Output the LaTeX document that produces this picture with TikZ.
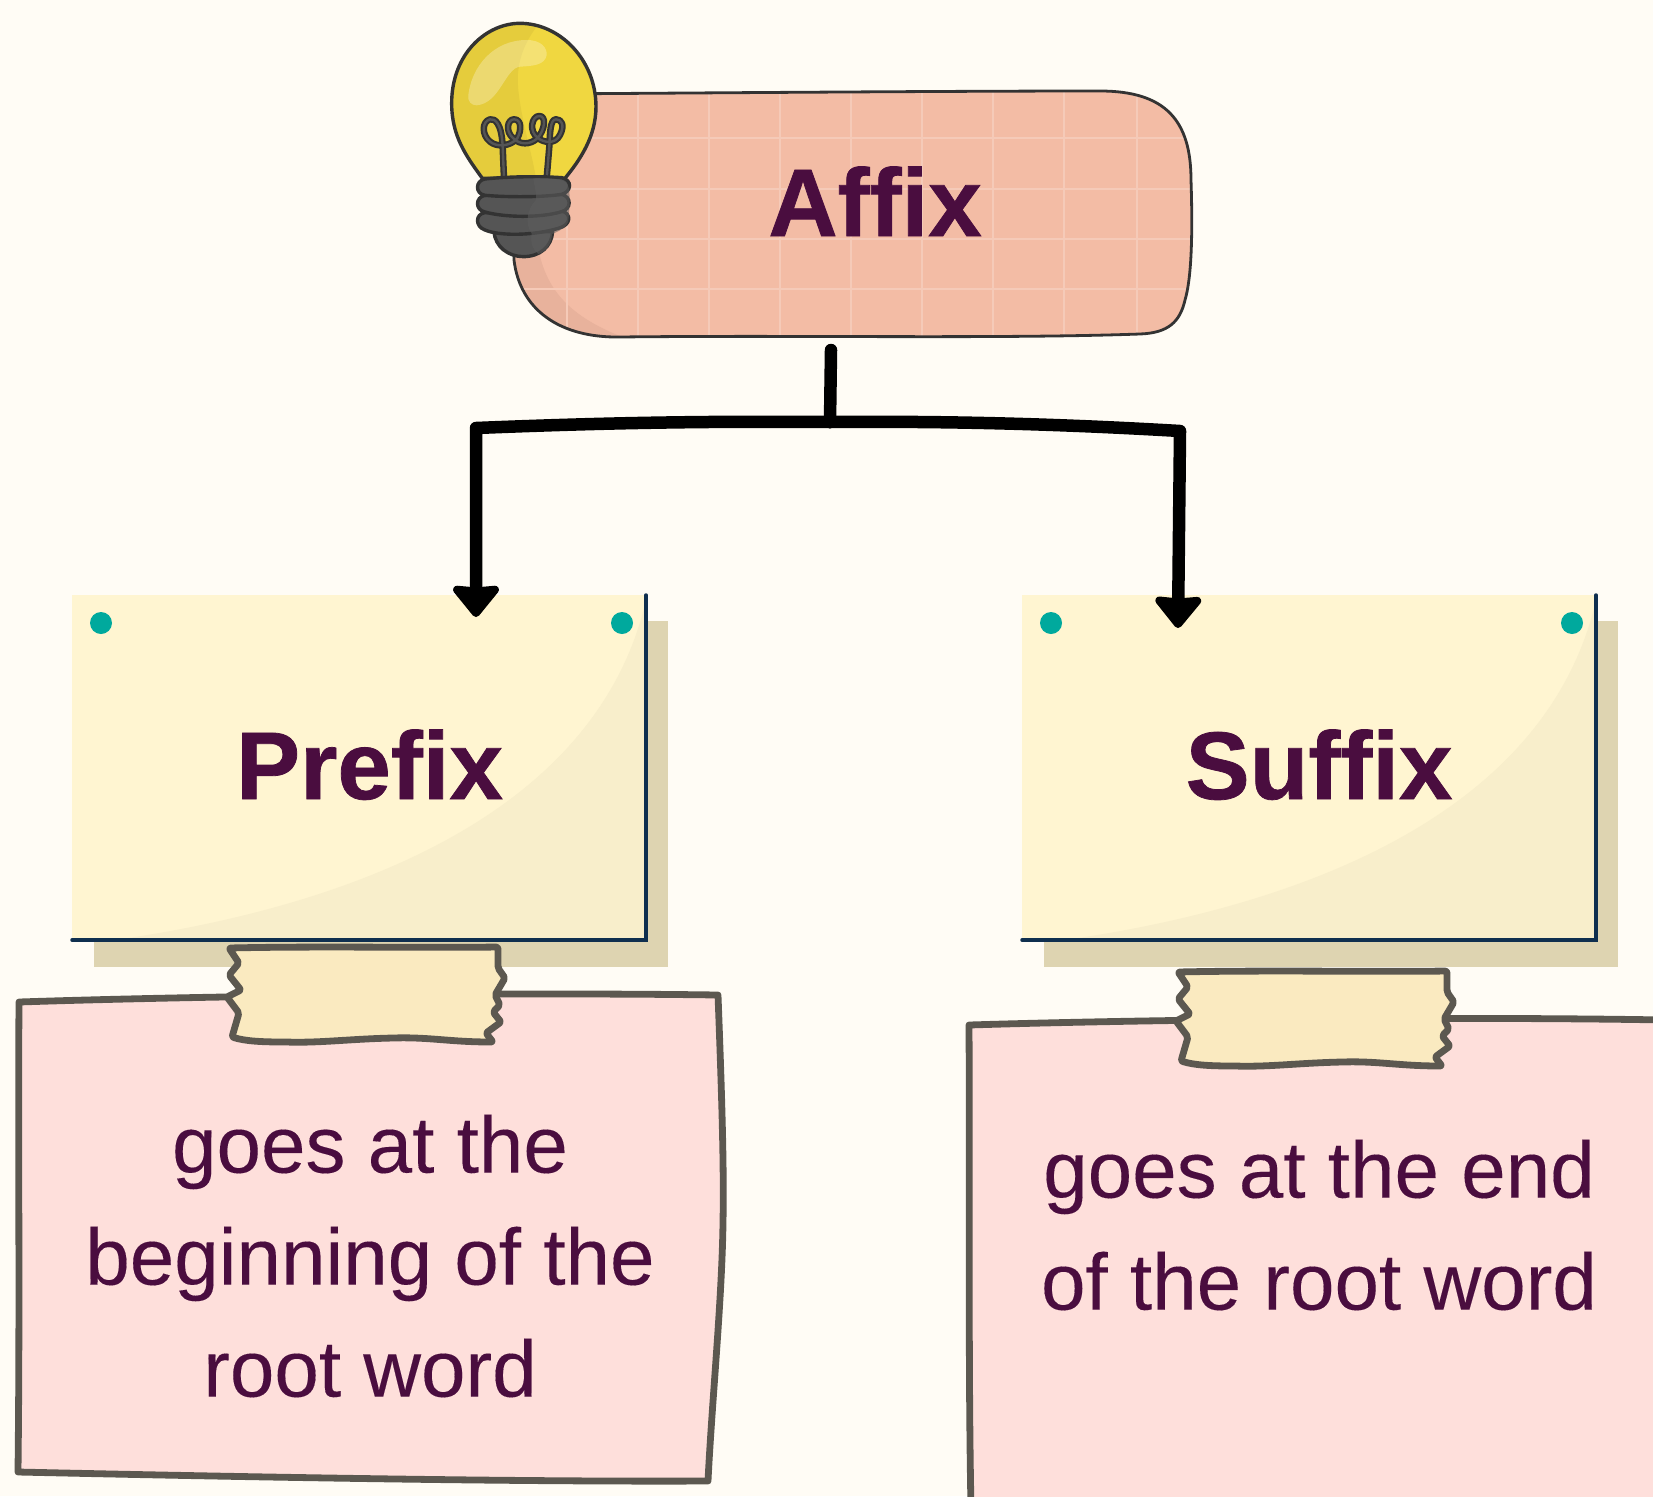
\documentclass[tikz,border=0pt]{standalone}
\usepackage{fontspec}
\setmainfont{Liberation Sans}[BoldFeatures={FakeBold=0.8},UprightFeatures={FakeBold=0.15}]
\usetikzlibrary{arrows.meta,calc}
\definecolor{bgc}{HTML}{FFFCF5}
\definecolor{cardc}{HTML}{FFF5D1}
\definecolor{foldc}{HTML}{F8EECB}
\definecolor{shadowc}{HTML}{DED4B1}
\definecolor{navyc}{HTML}{0F2F4F}
\definecolor{inkc}{HTML}{4A0D3F}
\definecolor{affixc}{HTML}{F3BCA5}
\definecolor{gridc}{HTML}{F5CAB8}
\definecolor{affixshade}{HTML}{E8B29C}
\definecolor{notec}{HTML}{FEDFDB}
\definecolor{tapec}{HTML}{FAEAC0}
\definecolor{tapeline}{HTML}{5C5850}
\definecolor{dotc}{HTML}{00A99D}
\definecolor{bulbc}{HTML}{F0D740}
\definecolor{bulbdark}{HTML}{E5CC3C}
\definecolor{basec}{HTML}{555555}
\definecolor{baselight}{HTML}{5E5E5E}
\definecolor{linec}{HTML}{333333}
\tikzset{
  titletext/.style={font=\fontsize{96}{100}\selectfont\bfseries,text=inkc,inner sep=0pt,anchor=base},
  bodytext/.style={font=\fontsize{80}{112}\selectfont,text=inkc,inner sep=0pt,align=center},
  cardbox/.style={rectangle,fill=cardc,minimum width=574pt,minimum height=345pt,inner sep=0pt,outer sep=0pt},
  boxholder/.style={rectangle,minimum width=679pt,minimum height=245pt,inner sep=0pt,outer sep=0pt},
  pinstyle/.style={circle,fill=dotc,minimum size=22pt,inner sep=0pt},
  notepaper/.style={fill=notec,draw=tapeline,line width=6.8pt,line join=round},
  tapestyle/.style={fill=tapec,draw=tapeline,line width=6.8pt,line join=round,rounded corners=2pt},
  flow/.style={black,line width=12.5pt,line cap=round,line join=round},
  arrowflow/.style={flow,-{Stealth[inset=2pt,length=34pt,width=54pt,round]}},
  outlinebulb/.style={draw=linec,line width=3.4pt,line join=round},
}
\newcommand{\tapeoutline}{(229,948) .. controls (320,946) and (420,948) .. (498,947) -- (498,968) -- (505,978) -- (495,995) -- (500,1005) -- (493,1012) -- (501,1022) -- (486,1033) -- (493,1042) .. controls (450,1042) and (430,1037) .. (393,1038) .. controls (350,1039) and (320,1043) .. (286,1042) .. controls (260,1042) and (245,1041) .. (232,1037) -- (239,1013) -- (227,997) -- (241,990) -- (229,975) -- (239,963) -- cycle}
\newcommand{\foldcurve}{(115,940) .. controls (380,902) and (600,800) .. (646,600) -- (646,940) -- cycle}
\begin{document}
\begin{tikzpicture}[x=1pt,y=-1pt]
\useasboundingbox (0,0) rectangle (1653,1496);
\clip (0,0) rectangle (1653,1496);
\fill[bgc] (0,0) rectangle (1653,1496);

% notes
\draw[notepaper] (19,1002) .. controls (200,996) and (500,992) .. (718,995) .. controls (722,1100) and (724,1170) .. (723,1222) .. controls (722,1300) and (712,1400) .. (708,1481) .. controls (500,1482) and (200,1476) .. (18,1472) .. controls (20,1300) and (18,1150) .. (19,1002) -- cycle;
\draw[notepaper] (969,1025) .. controls (1200,1018) and (1500,1017) .. (1665,1020) -- (1665,1510) -- (971,1510) .. controls (968,1350) and (970,1200) .. (969,1025) -- cycle;

% card shadows
\fill[shadowc] (94,621) rectangle (668,967);
\fill[shadowc] (1044,621) rectangle (1618,967);

% cards
\node[cardbox] (prefixcard) at (359,767.5) {};
\node[cardbox] (suffixcard) at (1309,767.5) {};
\fill[foldc] \foldcurve;
\begin{scope}[xshift=950pt]\fill[foldc] \foldcurve;\end{scope}
\draw[navyc,line width=3.5pt,line cap=round,line join=miter] (prefixcard.north east) -- (prefixcard.south east) -- (prefixcard.south west);
\draw[navyc,line width=3.5pt,line cap=round,line join=miter] (suffixcard.north east) -- (suffixcard.south east) -- (suffixcard.south west);
\node[pinstyle] (pina) at (101,623) {};
\node[pinstyle] (pinb) at (622,623) {};
\node[pinstyle] (pinc) at (1051,623) {};
\node[pinstyle] (pind) at (1572,623) {};

% tapes
\draw[tapestyle] \tapeoutline;
\begin{scope}[xshift=949pt,yshift=-24pt]\draw[tapestyle] \tapeoutline;\end{scope}

% affix box
\node[boxholder] (affixbox) at (852,214) {};
\newcommand{\affixoutline}{(540,94) .. controls (700,93) and (950,91) .. (1100,91) .. controls (1165,91) and (1191,120) .. (1191,180) .. controls (1193,240) and (1191,280) .. (1185,300) .. controls (1180,322) and (1168,333) .. (1140,334) .. controls (1000,339) and (800,335) .. (620,337) .. controls (560,338) and (520,310) .. (514,260) -- (513,200) -- cycle}
\begin{scope}
  \clip \affixoutline;
  \fill[affixc] (500,80) rectangle (1200,345);
  \fill[affixshade] (500,230) -- (536,230) .. controls (540,285) and (565,315) .. (625,338) -- (500,345) -- cycle;
  \foreach \gx in {567,638,709,780,851,922,993,1064,1137} \draw[gridc,line width=1.6pt] (\gx,80) -- (\gx,345);
  \foreach \gy in {138,189,239,289} \draw[gridc,line width=1.6pt] (500,\gy) -- (1200,\gy);
\end{scope}
\draw[draw=linec,line width=2.8pt,line join=round] \affixoutline;

% light bulb
\begin{scope}[shift={(430,10)},x=0.3333pt,y=-0.3333pt]
  \newcommand{\bulbglass}{(157,505) .. controls (110,440) and (65,380) .. (65,280) .. controls (65,130) and (170,40) .. (270,40) .. controls (390,40) and (498,150) .. (498,290) .. controls (498,380) and (450,450) .. (405,505) -- cycle}
  \fill[bulbc] \bulbglass;
  \begin{scope}
    \clip \bulbglass;
    \fill[bulbdark] (40,20) -- (345,20) .. controls (290,80) and (255,150) .. (265,240) .. controls (275,340) and (310,440) .. (320,520) -- (40,520) -- cycle;
  \end{scope}
  \fill[white,opacity=.27] (115,255) .. controls (125,170) and (190,90) .. (290,90) .. controls (335,90) and (352,115) .. (350,135) .. controls (345,165) and (310,168) .. (270,170) .. controls (225,175) and (210,280) .. (140,286) .. controls (125,286) and (112,275) .. (115,255) -- cycle;
  \draw[outlinebulb] \bulbglass;
  \newcommand{\filament}{(222,505) -- (218,410) .. controls (215,340) and (195,325) .. (180,328) .. controls (155,335) and (155,375) .. (180,395) .. controls (200,412) and (240,410) .. (262,385) .. controls (275,360) and (275,328) .. (252,328) .. controls (232,328) and (225,365) .. (250,385) .. controls (270,405) and (300,405) .. (322,385) .. controls (345,360) and (350,318) .. (328,318) .. controls (305,318) and (295,365) .. (325,385) .. controls (340,397) and (375,405) .. (390,375) .. controls (405,345) and (395,328) .. (378,328) .. controls (360,328) and (360,370) .. (358,410) -- (350,505)}
  \draw[linec,line width=6.5pt,line join=round] \filament;
  \draw[basec,line width=2.4pt,line join=round] \filament;
  % screw base
  \draw[fill=basec,draw=linec,line width=3.4pt] (192,665) .. controls (195,710) and (235,740) .. (280,740) .. controls (330,740) and (365,710) .. (368,665) -- cycle;
  \draw[fill=basec,draw=linec,line width=3.4pt] (165,608) .. controls (135,612) and (135,650) .. (165,660) .. controls (200,676) and (300,680) .. (385,655) .. controls (425,645) and (425,610) .. (395,603) -- cycle;
  \draw[fill=basec,draw=linec,line width=3.4pt] (165,556) .. controls (135,562) and (135,600) .. (165,606) .. controls (220,622) and (330,625) .. (395,605) .. controls (425,597) and (425,560) .. (395,553) -- cycle;
  \draw[fill=basec,draw=linec,line width=3.4pt] (165,507) .. controls (135,512) and (135,552) .. (165,556) .. controls (230,562) and (340,562) .. (395,553) .. controls (425,545) and (428,510) .. (395,503) .. controls (320,498) and (230,500) .. (165,507) -- cycle;
  \fill[baselight,opacity=.55] (310,505) .. controls (315,535) and (320,550) .. (318,570) .. controls (290,600) and (285,640) .. (305,670) .. controls (300,700) and (310,720) .. (325,732) .. controls (350,725) and (365,700) .. (366,672) .. controls (400,660) and (420,640) .. (416,620) .. controls (420,590) and (420,540) .. (415,530) .. controls (410,510) and (380,502) .. (310,505) -- cycle;
\end{scope}

% connectors
\coordinate (trunk) at (831,350);
\coordinate (junction) at (830,422);
\coordinate (lcorner) at (476,428);
\coordinate (rcorner) at (1180,431);
\coordinate (ltip) at (476,617);
\coordinate (rtip) at (1178,628);
\draw[flow] (trunk) -- (junction);
\draw[arrowflow] (junction) .. controls (700,421) and (600,423) .. (lcorner) -- (ltip);
\draw[arrowflow] (junction) .. controls (950,421) and (1060,424) .. (rcorner) -- (rtip);

% text
\node[titletext] (affixlabel) at (875,236) {Affix};
\node[titletext] (prefixlabel) at (369.5,799) {Prefix};
\node[titletext] (suffixlabel) at (1319,799) {Suffix};
\node[bodytext] (prefixnote) at (370,1256) {goes at the\\beginning of the\\root word};
\node[bodytext] (suffixnote) at (1319,1225) {goes at the end\\of the root word};
\end{tikzpicture}
\end{document}
